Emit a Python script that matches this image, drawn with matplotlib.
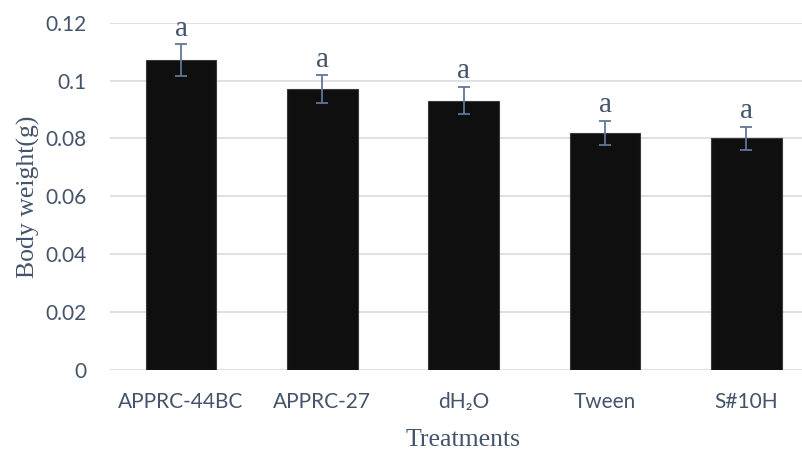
import numpy as np
import matplotlib
matplotlib.use("Agg")
import matplotlib.pyplot as plt

# data
treatments = ["APPRC-44BC", "APPRC-27", "dH\u2082O", "Tween", "S#10H"]
weights    = [0.107, 0.097, 0.093, 0.082, 0.080]
errors     = [0.0055, 0.0048, 0.0047, 0.0041, 0.0041]
letters    = ["a", "a", "a", "a", "a"]

txt_col  = "#44546a"
err_col  = "#5f7796"
grid_col = "#dadee5"

fig = plt.figure(figsize=(8.03, 4.53), dpi=100)
ax = fig.add_axes([110.4/803, 1 - 370/453, (803 - 110.4)/803, (370 - 22.7)/453])

x = np.arange(len(treatments))
ax.bar(x, weights, width=0.5, color="#0f0f0f", edgecolor="#3a3a3a",
       linewidth=0.8, zorder=2)
ax.errorbar(x, weights, yerr=errors, fmt="none", ecolor=err_col,
            elinewidth=1.3, capsize=4.5, capthick=1.3, zorder=3)

for xi, w, e, l in zip(x, weights, errors, letters):
    ax.annotate(l, (xi, w + e), xytext=(0, 2), textcoords="offset points",
                ha="center", va="bottom", fontsize=21,
                family="Liberation Serif", color=txt_col)

ax.set_xlim(-0.5, 4.40)
ax.set_ylim(0, 0.12)
ax.set_yticks(np.arange(0, 0.121, 0.02))
ax.set_yticklabels(["0", "0.02", "0.04", "0.06", "0.08", "0.1", "0.12"])
ax.set_xticks(x)
ax.set_xticklabels(treatments)

ax.grid(axis="y", color=grid_col, linewidth=1.3, zorder=0)
ax.set_axisbelow(True)
for s in ax.spines.values():
    s.set_visible(False)
ax.tick_params(length=0, labelsize=15, labelcolor=txt_col)
ax.tick_params(axis="y", pad=17)
ax.tick_params(axis="x", pad=16)
for lab in ax.get_xticklabels() + ax.get_yticklabels():
    lab.set_family("Lato")

ax.set_ylabel("Body weight(g)", family="Liberation Serif", fontsize=18.5,
              color=txt_col)
ax.yaxis.set_label_coords(-(110.4 - 40)/692.6, 0.5)
ax.set_xlabel("Treatments", family="Liberation Serif", fontsize=18.5,
              color=txt_col)
ax.xaxis.set_label_coords((463.5 - 110.4)/692.6, -(429 - 370)/347.3)

fig.savefig("out.png", dpi=100)
